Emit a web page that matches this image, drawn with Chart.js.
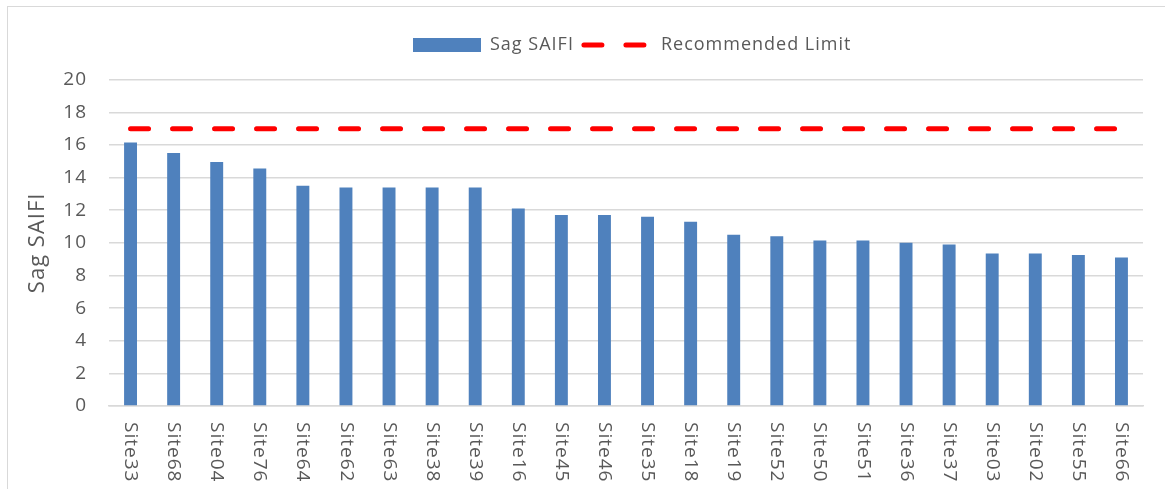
<!DOCTYPE html>
<html>
<head>
<meta charset="utf-8">
<script src="https://cdn.jsdelivr.net/npm/chart.js@4.4.1/dist/chart.umd.min.js"></script>
<style>
  html, body { margin: 0; padding: 0; background: #ffffff; }
  #wrap { width: 1165px; height: 489px; position: relative; }
</style>
</head>
<body>
<div id="wrap"><canvas id="c"></canvas></div>
<script>
const categories = ['Site33','Site68','Site04','Site76','Site64','Site62','Site63','Site38','Site39','Site16','Site45','Site46','Site35','Site18','Site19','Site52','Site50','Site51','Site36','Site37','Site03','Site02','Site55','Site66'];
const sagSaifi = [16.15, 15.5, 14.95, 14.55, 13.5, 13.4, 13.4, 13.4, 13.4, 12.1, 11.7, 11.7, 11.6, 11.3, 10.5, 10.4, 10.15, 10.15, 10.0, 9.9, 9.35, 9.35, 9.25, 9.1];
const recommendedLimit = [17, 17, 17, 17, 17, 17, 17, 17, 17, 17, 17, 17, 17, 17, 17, 17, 17, 17, 17, 17, 17, 17, 17, 17];
const yTicks = [0, 2, 4, 6, 8, 10, 12, 14, 16, 18, 20];
const seriesNames = ['Sag SAIFI', 'Recommended Limit'];
const yTitle = 'Sag SAIFI';

const TEXT = '#595959';
const GRID = '#D9D9D9';
const FONT = "'Open Sans', 'Liberation Sans', sans-serif";
const SPACING = '1px';

const spacingPlugin = {
  id: 'spacing',
  beforeUpdate(chart) { chart.ctx.letterSpacing = SPACING; },
  beforeDraw(chart) {
    const ctx = chart.ctx;
    ctx.letterSpacing = SPACING;
    ctx.save();
    ctx.strokeStyle = GRID;
    ctx.lineWidth = 1;
    ctx.strokeRect(7.5, 6.5, chart.width + 10, chart.height + 10);
    ctx.restore();
  }
};

const legendShift = {
  id: 'legendShift',
  afterLayout(chart) {
    const lg = chart.legend;
    if (!lg || !lg.lineWidths) return;
    const pad = lg.options.labels.padding;
    const cur = (lg.left + pad + lg.right - lg.lineWidths[0]) / 2;
    const d = 413 - cur;
    lg.left += d;
    lg.right += d;
  }
};

const xLabels = {
  id: 'xLabels',
  afterDraw(chart) {
    const ctx = chart.ctx;
    const xs = chart.scales.x;
    ctx.save();
    ctx.letterSpacing = SPACING;
    ctx.fillStyle = TEXT;
    ctx.font = "19px " + FONT;
    ctx.textAlign = 'left';
    ctx.textBaseline = 'middle';
    categories.forEach((lab, i) => {
      const x = xs.getPixelForValue(i);
      ctx.save();
      ctx.translate(x, xs.top + 16);
      ctx.rotate(Math.PI / 2);
      ctx.fillText(lab, 0, 0);
      ctx.restore();
    });
    ctx.restore();
  }
};

new Chart(document.getElementById('c'), {
  data: {
    labels: categories,
    datasets: [
      {
        type: 'bar',
        label: seriesNames[0],
        data: sagSaifi,
        backgroundColor: '#4F81BD',
        borderWidth: 0,
        barPercentage: 0.3,
        categoryPercentage: 1.0,
        pointStyle: 'rect'
      },
      {
        type: 'line',
        label: seriesNames[1],
        data: recommendedLimit,
        borderColor: '#FF0000',
        backgroundColor: '#FF0000',
        borderWidth: 5,
        borderDash: [18, 24],
        borderCapStyle: 'round',
        pointRadius: 0,
        pointStyle: 'line',
        fill: false,
        tension: 0
      }
    ]
  },
  options: {
    responsive: true,
    maintainAspectRatio: false,
    animation: false,
    layout: { padding: { left: 0, right: 22, top: 26, bottom: 83 } },
    plugins: {
      tooltip: { enabled: false },
      title: {
        display: true,
        text: ' ',
        position: 'top',
        weight: 500,
        padding: 0,
        font: { size: 10, lineHeight: 1.57 }
      },
      legend: {
        position: 'top',
        align: 'center',
        labels: {
          usePointStyle: true,
          pointStyleWidth: 68,
          boxHeight: 14,
          padding: 10,
          color: TEXT,
          font: { family: FONT, size: 18 },
          generateLabels(chart) {
            const items = Chart.defaults.plugins.legend.labels.generateLabels(chart);
            items.forEach(it => {
              const ds = chart.data.datasets[it.datasetIndex];
              if (ds.type === 'line') {
                it.pointStyle = 'line';
                it.lineWidth = ds.borderWidth;
                it.strokeStyle = ds.borderColor;
                it.lineDash = ds.borderDash;
                it.lineCap = ds.borderCapStyle;
              } else {
                it.pointStyle = 'rect';
                it.lineWidth = 0;
                it.fillStyle = ds.backgroundColor;
              }
            });
            return items;
          }
        }
      }
    },
    scales: {
      x: {
        type: 'category',
        offset: true,
        grid: { display: false, drawTicks: false },
        border: { display: true, color: GRID, width: 1.5 },
        ticks: { display: false }
      },
      y: {
        min: 0,
        max: 20,
        afterBuildTicks(scale) { scale.ticks = yTicks.map(v => ({ value: v })); },
        afterFit(scale) { scale.width = 109; },
        grid: { color: GRID, lineWidth: 1.5, drawTicks: false },
        border: { display: false },
        ticks: {
          padding: 22,
          color: TEXT,
          font: { family: FONT, size: 19 }
        },
        title: {
          display: true,
          text: yTitle,
          color: TEXT,
          font: { family: FONT, size: 22 },
          padding: { top: 25, bottom: 12 }
        }
      }
    }
  },
  plugins: [spacingPlugin, legendShift, xLabels]
});
</script>
</body>
</html>
